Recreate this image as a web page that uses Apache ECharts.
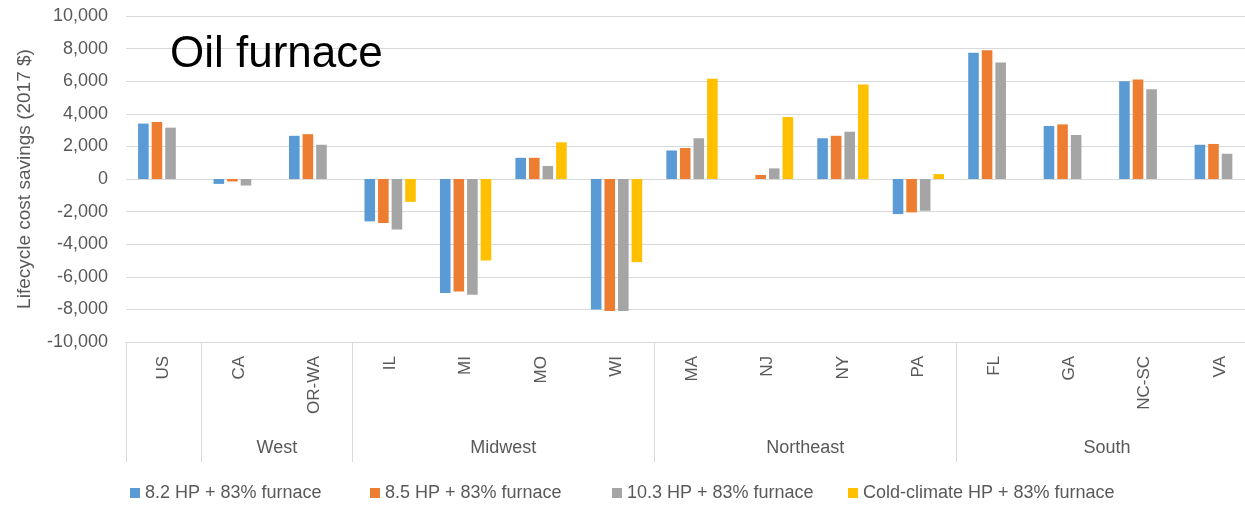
<!DOCTYPE html>
<html>
<head>
<meta charset="utf-8">
<script src="https://cdn.jsdelivr.net/npm/echarts@6/dist/echarts.min.js"></script>
<style>
html,body{margin:0;padding:0;background:#fff;}
#chart{width:1245px;height:505px;}
</style>
</head>
<body>
<div id="chart"></div>
<script>
// ---- data ----
var categories = ['US','CA','OR-WA','IL','MI','MO','WI','MA','NJ','NY','PA','FL','GA','NC-SC','VA'];
var groupNames = ['', 'West', 'Midwest', 'Northeast', 'South'];
var groupSizes = [1, 2, 4, 4, 4];
var seriesNames = ['8.2 HP + 83% furnace','8.5 HP + 83% furnace','10.3 HP + 83% furnace','Cold-climate HP + 83% furnace'];
var hp82  = [3400, -300, 2650, -2600, -7000, 1300, -8000, 1750,   0, 2500, -2150, 7750, 3250, 6000, 2100];
var hp85  = [3500, -150, 2750, -2700, -6900, 1300, -8100, 1900, 250, 2650, -2050, 7900, 3350, 6100, 2150];
var hp103 = [3150, -400, 2100, -3100, -7100,  800, -8100, 2500, 650, 2900, -1950, 7150, 2700, 5500, 1550];
var coldHP = [null, null, null, -1400, -5000, 2250, -5100, 6150, 3800, 5800, 300, null, null, null, null];
var yTicks = {min: -10000, max: 10000, interval: 2000};

// ---- derived ----
var boundaries = [0];
var centers = {};
(function(){
  var acc = 0;
  for (var i = 0; i < groupSizes.length; i++) {
    var s = acc; acc += groupSizes[i];
    boundaries.push(acc);
    if (groupNames[i]) centers[(s + acc) / 2] = groupNames[i];
  }
})();

var FONT = "'Liberation Sans', Arial, sans-serif";
var TXT = '#595959';
var colors = ['#5B9BD5', '#ED7D31', '#A5A5A5', '#FFC000'];
var values = [hp82, hp85, hp103, coldHP];

var chart = echarts.init(document.getElementById('chart'), null, {renderer: 'canvas'});

var legendLefts = [130, 370, 612, 848];
var legends = seriesNames.map(function(n, i){
  return {
    data: [n], left: legendLefts[i], top: 484, padding: 0,
    itemWidth: 10, itemHeight: 10, icon: 'rect',
    textStyle: {color: TXT, fontSize: 18, fontFamily: FONT}
  };
});

var option = {
  animation: false,
  backgroundColor: '#fff',
  title: {
    text: 'Oil furnace', left: 165, top: 28,
    textStyle: {color: '#000', fontSize: 44, fontWeight: 'normal', fontFamily: FONT}
  },
  legend: legends,
  grid: {left: 126, top: 16, width: 1132, height: 326, containLabel: false, outerBoundsMode: 'none'},
  xAxis: [
    {
      type: 'category', data: categories, position: 'bottom',
      axisLine: {show: true, onZero: false, lineStyle: {color: '#D9D9D9', width: 1}},
      axisTick: {
        show: true, length: 120, lineStyle: {color: '#D9D9D9', width: 1},
        interval: function(idx){ return boundaries.indexOf(idx) >= 0; }
      },
      axisLabel: {
        rotate: 90, margin: 14, interval: 0,
        color: TXT, fontSize: 17, fontFamily: FONT
      },
      splitLine: {show: false}
    },
    {
      type: 'value', position: 'bottom', offset: 90,
      min: 0, max: categories.length, interval: 1,
      axisLine: {show: false}, axisTick: {show: false}, splitLine: {show: false},
      axisLabel: {
        margin: 7, color: TXT, fontSize: 18, fontFamily: FONT,
        showMinLabel: true, showMaxLabel: true,
        formatter: function(v){ return centers[v] || ''; }
      }
    }
  ],
  yAxis: {
    type: 'value', min: yTicks.min, max: yTicks.max, interval: yTicks.interval,
    name: 'Lifecycle cost savings (2017 $)', nameLocation: 'middle', nameGap: 92,
    nameTextStyle: {color: TXT, fontSize: 19, fontFamily: FONT},
    axisLine: {show: false}, axisTick: {show: false},
    axisLabel: {
      margin: 18, color: TXT, fontSize: 18, fontFamily: FONT,
      formatter: function(v){ return v.toLocaleString('en-US'); }
    },
    splitLine: {lineStyle: {color: '#D9D9D9', width: 1}}
  },
  series: seriesNames.map(function(n, i){
    return {
      name: n, type: 'bar', xAxisIndex: 0, data: values[i],
      itemStyle: {color: colors[i]},
      barGap: '28%', barCategoryGap: '32%'
    };
  })
};
chart.setOption(option);
</script>
</body>
</html>
